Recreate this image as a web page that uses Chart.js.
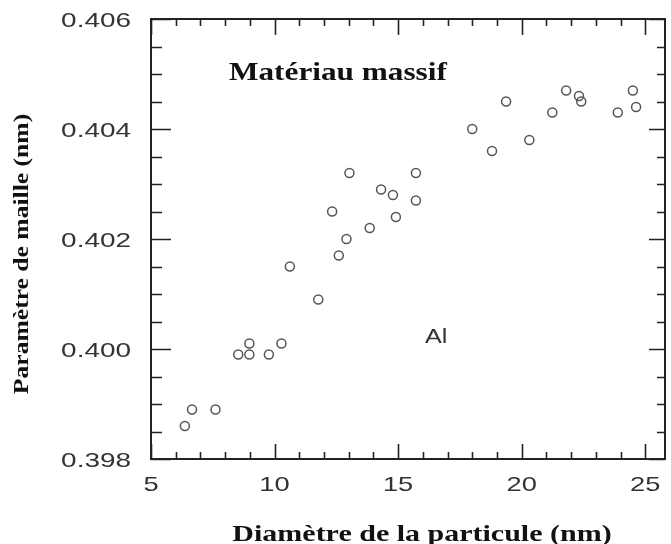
<!DOCTYPE html>
<html>
<head>
<meta charset="utf-8">
<script src="https://cdn.jsdelivr.net/npm/chart.js@4"></script>
<style>
  html, body { margin: 0; padding: 0; background: #fff; }
  #wrap { width: 671px; height: 544px; position: relative; }
</style>
</head>
<body>
<div id="wrap"><canvas id="chart"></canvas></div>
<script>
// diamètre (nm) et paramètre de maille (nm)
const diameters = [6.37, 6.66, 7.61, 8.53, 8.98, 8.98, 9.77, 10.28, 10.62, 11.77,
  12.33, 12.60, 12.91, 13.03, 13.85, 14.31, 14.79, 14.91, 15.72, 15.72,
  18.00, 18.80, 19.37, 20.31, 21.24, 21.80, 22.32, 22.41, 23.89, 24.50, 24.63];
const latticeParams = [0.3986, 0.3989, 0.3989, 0.3999, 0.3999, 0.4001, 0.3999, 0.4001, 0.4015, 0.4009,
  0.4025, 0.4017, 0.4020, 0.4032, 0.4022, 0.4029, 0.4028, 0.4024, 0.4032, 0.4027,
  0.4040, 0.4036, 0.4045, 0.4038, 0.4043, 0.4047, 0.4046, 0.4045, 0.4043, 0.4047, 0.4044];

const xTickValues = [5, 10, 15, 20, 25];
const xTickLabels = ['5', '10', '15', '20', '25'];
const yTickValues = [0.398, 0.400, 0.402, 0.404, 0.406];
const yTickLabels = ['0.398', '0.400', '0.402', '0.404', '0.406'];

const xTitle = 'Diamètre de la particule (nm)';
const yTitle = 'Paramètre de maille (nm)';
const bulkLabel = 'Matériau massif';
const elementLabel = 'Al';

const points = diameters.map((d, i) => ({ x: d, y: latticeParams[i] }));

// texte élargi horizontalement comme sur la figure
function wideText(ctx, text, x, y, sx, align, rot) {
  ctx.save();
  ctx.translate(x, y);
  if (rot) ctx.rotate(rot);
  ctx.scale(sx, 1);
  ctx.textAlign = align;
  ctx.fillText(text, 0, 0);
  ctx.restore();
}

const framePlugin = {
  id: 'frame',
  afterDraw(chart) {
    const ctx = chart.ctx;
    const xs = chart.scales.x;
    const ys = chart.scales.y;
    const { left, right, top, bottom } = chart.chartArea;

    ctx.save();
    ctx.strokeStyle = '#222';
    ctx.lineWidth = 1.6;
    ctx.beginPath();
    // ticks x (haut et bas)
    for (let v = 5; v <= 25; v++) {
      const px = Math.round(xs.getPixelForValue(v)) + 0.5;
      const major = v % 5 === 0;
      ctx.moveTo(px, bottom);
      ctx.lineTo(px, bottom - (major ? 15 : 7));
      ctx.moveTo(px, top);
      ctx.lineTo(px, top + (major ? 16 : 7));
    }
    // ticks y (gauche et droite)
    for (let k = 0; k <= 16; k++) {
      const v = 0.398 + k * 0.0005;
      const py = Math.round(ys.getPixelForValue(v)) + 0.5;
      const major = k % 4 === 0;
      ctx.moveTo(left, py);
      ctx.lineTo(left + (major ? 20 : 11), py);
      ctx.moveTo(right, py);
      ctx.lineTo(right - (major ? 16 : 8), py);
    }
    ctx.stroke();
    ctx.lineWidth = 2;
    ctx.strokeRect(left, top, right - left, bottom - top);
    ctx.restore();

    ctx.save();
    ctx.fillStyle = '#333';
    ctx.font = '21px "Liberation Sans", Arial, sans-serif';
    ctx.textBaseline = 'alphabetic';
    xTickValues.forEach((v, i) => {
      wideText(ctx, xTickLabels[i], xs.getPixelForValue(v), 491, 1.3, 'center');
    });
    yTickValues.forEach((v, i) => {
      wideText(ctx, yTickLabels[i], 131, ys.getPixelForValue(v) + 8, 1.33, 'right');
    });
    wideText(ctx, elementLabel, 425, 343, 1.2, 'left');

    ctx.fillStyle = '#111';
    ctx.font = 'bold 25px "Liberation Serif", "Times New Roman", serif';
    wideText(ctx, bulkLabel, 229, 80, 1.25, 'left');

    ctx.font = 'bold 24px "Liberation Serif", "Times New Roman", serif';
    wideText(ctx, xTitle, 422, 541, 1.25, 'center');

    ctx.font = 'bold 20px "Liberation Serif", "Times New Roman", serif';
    ctx.textBaseline = 'middle';
    wideText(ctx, yTitle, 23, 254, 1.28, 'center', -Math.PI / 2);
    ctx.restore();
  }
};

new Chart(document.getElementById('chart'), {
  type: 'scatter',
  data: {
    datasets: [{
      label: 'Al',
      data: points,
      pointStyle: 'circle',
      pointRadius: 4.5,
      pointBorderWidth: 1.5,
      pointBackgroundColor: 'rgba(0,0,0,0)',
      pointBorderColor: '#555',
      pointHoverRadius: 4.5
    }]
  },
  options: {
    responsive: true,
    maintainAspectRatio: false,
    animation: false,
    layout: { padding: { left: 151, right: 3, top: 19, bottom: 85 } },
    plugins: {
      legend: { display: false },
      tooltip: { enabled: false }
    },
    scales: {
      x: { type: 'linear', min: 5, max: 25.8, display: false },
      y: { type: 'linear', min: 0.398, max: 0.406, display: false }
    }
  },
  plugins: [framePlugin]
});
</script>
</body>
</html>
